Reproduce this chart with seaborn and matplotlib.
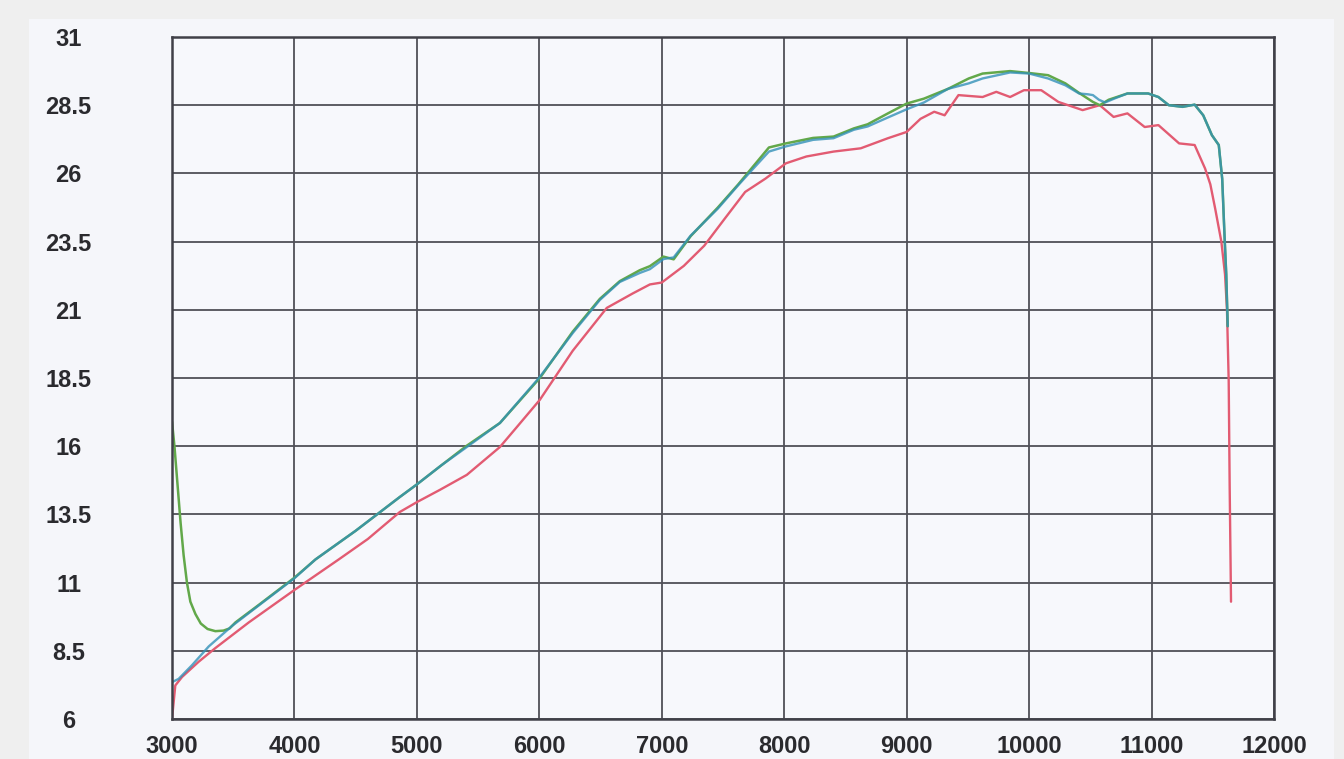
import matplotlib
matplotlib.use('Agg')
from matplotlib import pyplot as plt
from matplotlib.patches import Rectangle
import pandas as pd
import seaborn as sns

# rpm / value readings for each run
red_rpm = [3000, 3027, 3082, 3218, 3354, 3627, 4000, 4362, 4600, 4861, 5000, 5188,
           5408, 5678, 5816, 6004, 6273, 6551, 6763, 6903, 7000, 7180, 7347, 7514,
           7681, 7847, 8014, 8181, 8403, 8625, 8847, 9000, 9113, 9225, 9310, 9423,
           9620, 9732, 9845, 9958, 10099, 10239, 10437, 10577, 10690, 10803, 10944,
           11056, 11225, 11352, 11437, 11480, 11520, 11570, 11600, 11616, 11630,
           11638, 11649]
red_val = [6.0, 7.23, 7.54, 8.1, 8.6, 9.54, 10.73, 11.85, 12.6, 13.59, 13.95, 14.4,
           14.95, 15.97, 16.7, 17.7, 19.5, 21.07, 21.6, 21.93, 22.0, 22.61, 23.35, 24.34,
           25.32, 25.81, 26.37, 26.62, 26.8, 26.92, 27.29, 27.52, 28.0, 28.26, 28.13, 28.87,
           28.8, 28.99, 28.8, 29.05, 29.05, 28.62, 28.32, 28.5, 28.07, 28.2, 27.7,
           27.77, 27.1, 27.04, 26.18, 25.6, 24.7, 23.5, 22.3, 21.0, 18.4,
           14.5, 10.3]

green_rpm = [3000, 3020, 3045, 3070, 3095, 3122, 3150, 3191, 3235, 3290, 3354, 3420,
             3470, 3518, 3708, 4000, 4172, 4500, 4861, 5000, 5200, 5408, 5678, 6004,
             6273, 6494, 6657, 6820, 6903, 7014, 7097, 7236, 7458, 7625, 7736, 7875,
             8014, 8236, 8403, 8569, 8681, 8847, 9000, 9141, 9338, 9507, 9620, 9845,
             10000, 10155, 10296, 10408, 10521, 10577, 10650, 10803, 10972, 11056,
             11141, 11253, 11352, 11422, 11493, 11549, 11577, 11597, 11610, 11622]
green_val = [16.9, 16.0, 14.6, 13.2, 12.0, 11.0, 10.3, 9.85, 9.5, 9.3, 9.22, 9.24,
             9.32, 9.54, 10.18, 11.18, 11.85, 12.9, 14.14, 14.6, 15.3, 16.02, 16.85, 18.5,
             20.2, 21.4, 22.05, 22.45, 22.6, 22.95, 22.85, 23.7, 24.75, 25.6, 26.2, 26.95,
             27.1, 27.3, 27.35, 27.65, 27.8, 28.2, 28.56, 28.74, 29.1, 29.48, 29.66, 29.75,
             29.68, 29.6, 29.3, 28.95, 28.62, 28.5, 28.7, 28.93, 28.93, 28.8,
             28.5, 28.44, 28.52, 28.13, 27.4, 27.04, 25.8, 23.6, 22.3, 20.4]

blue_rpm = [3000, 3054, 3163, 3300, 3490, 3708, 4000, 4172, 4500, 4861, 5000, 5200,
            5408, 5678, 6004, 6273, 6494, 6657, 6820, 6903, 7014, 7097, 7236, 7458,
            7625, 7736, 7875, 8014, 8236, 8403, 8569, 8681, 8847, 9000, 9141, 9338,
            9507, 9620, 9845, 10000, 10155, 10296, 10408, 10480, 10521, 10570, 10620,
            10700, 10803, 10972, 11056, 11141, 11253, 11352, 11422, 11493, 11549,
            11577, 11597, 11610, 11622]
blue_val = [7.35, 7.47, 7.97, 8.66, 9.41, 10.16, 11.16, 11.85, 12.9, 14.14, 14.6, 15.3,
            15.97, 16.85, 18.54, 20.15, 21.36, 22.02, 22.35, 22.49, 22.86, 22.92, 23.72, 24.71,
            25.57, 26.12, 26.8, 26.99, 27.23, 27.29, 27.6, 27.72, 28.05, 28.35, 28.6, 29.1,
            29.3, 29.48, 29.7, 29.66, 29.48, 29.23, 28.93, 28.9, 28.87, 28.7, 28.6,
            28.75, 28.93, 28.93, 28.8, 28.5, 28.44, 28.52, 28.13, 27.4, 27.04,
            25.8, 23.6, 22.3, 20.4]

x_ticks = [3000, 4000, 5000, 6000, 7000, 8000, 9000, 10000, 11000, 12000]
y_ticks = [6, 8.5, 11, 13.5, 16, 18.5, 21, 23.5, 26, 28.5, 31]
y_labels = ['6', '8.5', '11', '13.5', '16', '18.5', '21', '23.5', '26', '28.5', '31']

df = pd.concat([
    pd.DataFrame({'rpm': red_rpm, 'value': red_val, 'run': 'red'}),
    pd.DataFrame({'rpm': green_rpm, 'value': green_val, 'run': 'green'}),
    pd.DataFrame({'rpm': blue_rpm, 'value': blue_val, 'run': 'blue'}),
])

sns.set_style('white')
plt.rcParams['font.family'] = ['Liberation Sans', 'DejaVu Sans']

fig = plt.figure(figsize=(13.44, 7.59), dpi=100, facecolor='#efefef')
# scanned paper sheet behind everything
fig.patches.append(Rectangle((29 / 1344, 0), (1334 - 29) / 1344, 1 - 19 / 759,
                             transform=fig.transFigure, facecolor='#f5f6fa',
                             edgecolor='none', zorder=-10))
ax = fig.add_axes([172 / 1344, 1 - 719 / 759, (1274 - 172) / 1344, (719 - 37) / 759])
ax.set_zorder(5)
ax.set_facecolor('#f7f8fc')

palette = {'red': '#e25b72', 'green': '#62a84a', 'blue': '#3391b8'}
for run, lw, alpha in [('red', 1.7, 1.0), ('green', 1.8, 1.0), ('blue', 1.7, 0.8)]:
    sns.lineplot(data=df[df['run'] == run], x='rpm', y='value', color=palette[run],
                 linewidth=lw, alpha=alpha, sort=False, estimator=None, ax=ax, legend=False)

ax.set_xlim(3000, 12000)
ax.set_ylim(6, 31)
ax.set_xticks(x_ticks)
ax.set_yticks(y_ticks)
ax.set_yticklabels(y_labels)
ax.set_xlabel('')
ax.set_ylabel('')
ax.grid(True, color='#505058', linewidth=1.3)
ax.set_axisbelow(True)
for s in ax.spines.values():
    s.set_visible(True)
    s.set_color('#404048')
    s.set_linewidth(1.8)

ax.tick_params(axis='both', length=0, labelsize=17, colors='#2a2a2e')
ax.tick_params(axis='y', pad=74.5)
ax.tick_params(axis='x', pad=19.5)
for lbl in ax.get_yticklabels():
    lbl.set_fontweight('bold')
    lbl.set_horizontalalignment('center')
for lbl in ax.get_xticklabels():
    lbl.set_fontweight('bold')
    lbl.set_verticalalignment('center')

fig.savefig('out.png', dpi=100, facecolor=fig.get_facecolor())
